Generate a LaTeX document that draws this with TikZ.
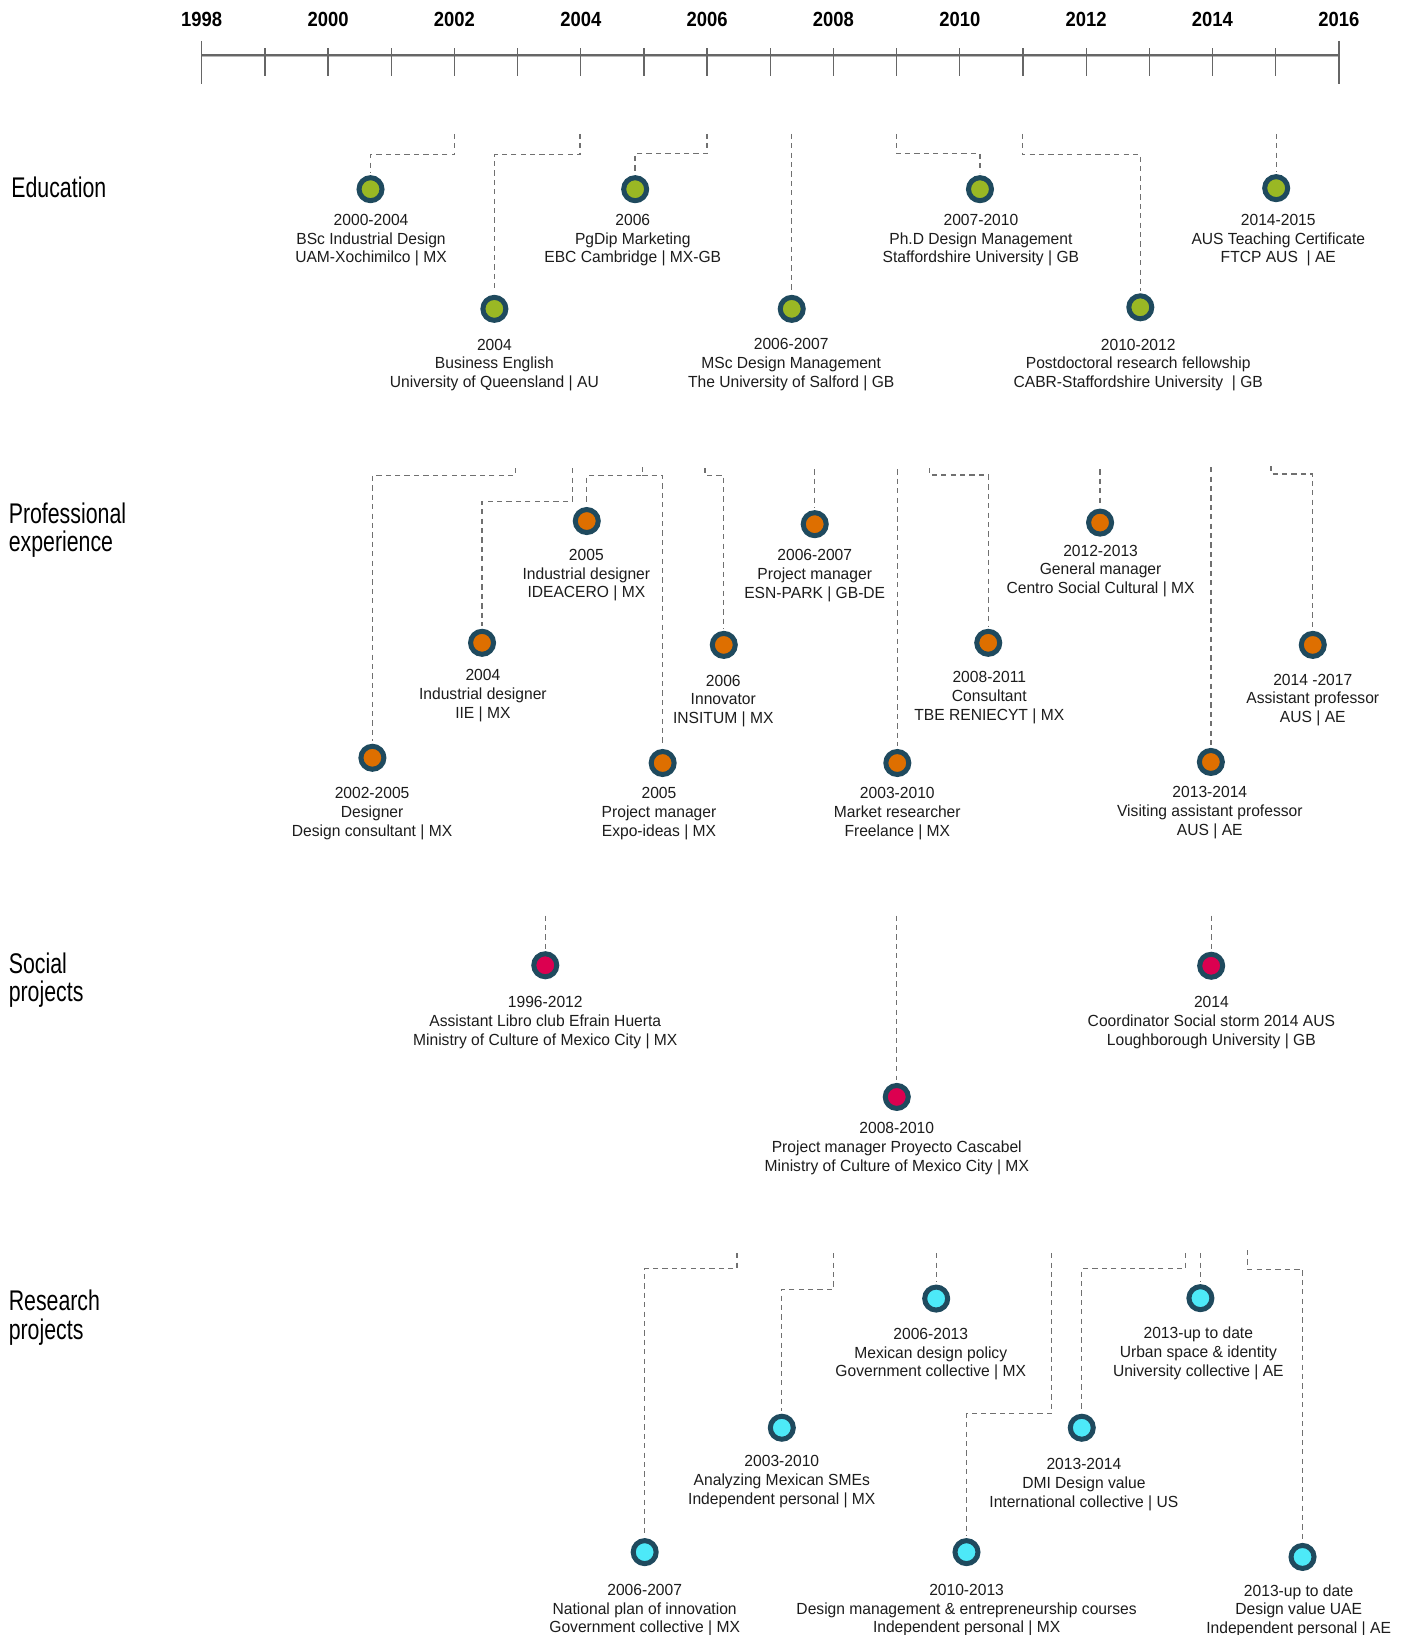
\documentclass[tikz,border=0pt]{standalone}
\usepackage{fontspec}
\setmainfont[FakeStretch=0.97]{Liberation Sans}
\newfontfamily\headfont[FakeStretch=0.75]{Liberation Sans}
\newfontfamily\yearfont[FakeStretch=0.9]{Liberation Sans Bold}
\usetikzlibrary{calc}
\definecolor{navy}{HTML}{1F4A5E}
\definecolor{edu}{HTML}{9AB824}
\definecolor{pro}{HTML}{DE6F00}
\definecolor{soc}{HTML}{DC0050}
\definecolor{res}{HTML}{4DE9F8}
\definecolor{dashgray}{HTML}{707070}
\definecolor{txt}{HTML}{1C1C1C}
\definecolor{axis}{HTML}{666666}
\definecolor{axislight}{HTML}{B8B8B8}
\newcommand\tl[3]{\begin{tabular}[t]{@{}c@{}}#1\\#2\\#3\end{tabular}}
\newcommand\hl[2]{\begin{tabular}[t]{@{}l@{}}#1\\#2\end{tabular}}
\begin{document}
\begin{tikzpicture}[x=0.5pt,y=-0.5pt,
  dot/.style={circle, draw=navy, line width=2.4pt, inner sep=0pt, minimum size=11pt, fill=#1},
  conn/.style={draw=dashgray, line width=0.65pt, dash pattern=on 2.5pt off 2pt, shorten >=1.2pt},
  lbl/.style={anchor=base, inner sep=0pt, text=txt, font=\fontsize{7.7}{9}\selectfont},
  hdg/.style={anchor=base west, inner sep=0pt, text=black, font=\headfont\fontsize{13.6}{13}\selectfont},
  yr/.style={anchor=base, inner sep=0pt, text=black, font=\yearfont\fontsize{9.8}{10}\selectfont},
  tick/.style={draw=axis, line width=0.6pt}]
\useasboundingbox (0,0) rectangle (1350,1564.3);

% ---------- time axis ----------
\draw[axislight, line width=1.6pt] (193,53) -- (1281,53);
\draw[axis, line width=0.9pt] (193,53) -- (1281,53);
\foreach \i in {1,...,17} \draw[tick] ({193+60.44*\i},46) -- ({193+60.44*\i},73);
\draw[tick] (193,39) -- (193,80);
\draw[tick] (1281,39) -- (1281,80);
\foreach \i [evaluate=\i as \yv using int(1998+\i)] in {0,2,...,18}
  \node[yr] (yr\i) at ({193+60.44*\i},25) {\yv};

% ---------- headings ----------
\node[hdg] (hEdu) at (10.5,189) {Education};
\node[hdg] (hPro) at (8,500.6) {\hl{Professional}{experience}};
\node[hdg] (hSoc) at (8,931) {\hl{Social}{projects}};
\node[hdg] (hRes) at (8,1254) {\hl{Research}{projects}};

% ---------- Education ----------
\node[dot=edu] (e1) at (354.5,181) {};
\node[dot=edu] (e2) at (473,295.5) {};
\node[dot=edu] (e3) at (607.7,181) {};
\node[dot=edu] (e4) at (757.5,295.5) {};
\node[dot=edu] (e5) at (937.6,181) {};
\node[dot=edu] (e6) at (1091,294) {};
\node[dot=edu] (e7) at (1221,180) {};
\coordinate (e1s) at (435,128);
\coordinate (e2s) at (555,128);
\coordinate (e3s) at (676.5,128);
\coordinate (e4s) at (757.5,128);
\coordinate (e5s) at (857.8,128);
\coordinate (e6s) at (978,128);
\coordinate (e7s) at (1221,128);
\draw[conn] (e1s) -- ++(0,20) -| (e1);
\draw[conn] (e2s) -- ++(0,20) -| (e2);
\draw[conn] (e3s) -- ++(0,19) -| (e3);
\draw[conn] (e4s) -- (e4);
\draw[conn] (e5s) -- ++(0,19) -| (e5);
\draw[conn] (e6s) -- ++(0,20) -| (e6);
\draw[conn] (e7s) -- (e7);
\node[lbl] (e1l) at (355,215.5) {\tl{2000-2004}{BSc Industrial Design}{UAM-Xochimilco | MX}};
\node[lbl] (e2l) at (473,335) {\tl{2004}{Business English}{University of Queensland | AU}};
\node[lbl] (e3l) at (605.4,215.5) {\tl{2006}{PgDip Marketing}{EBC Cambridge | MX-GB}};
\node[lbl] (e4l) at (757,334.5) {\tl{2006-2007}{MSc Design Management}{The University of Salford | GB}};
\node[lbl] (e5l) at (938.5,215.5) {\tl{2007-2010}{Ph.D Design Management}{Staffordshire University | GB}};
\node[lbl] (e6l) at (1089,335) {\tl{2010-2012}{Postdoctoral research fellowship}{CABR-Staffordshire University \ | GB}};
\node[lbl] (e7l) at (1223,215.5) {\tl{2014-2015}{AUS Teaching Certificate}{FTCP AUS \ | AE}};

% ---------- Professional experience ----------
\node[dot=pro] (p1) at (356.3,725) {};
\node[dot=pro] (p2) at (461.2,615) {};
\node[dot=pro] (p3) at (561.4,498.5) {};
\node[dot=pro] (p4) at (634,730) {};
\node[dot=pro] (p5) at (692.5,617) {};
\node[dot=pro] (p6) at (779.5,501.5) {};
\node[dot=pro] (p7) at (858.5,730) {};
\node[dot=pro] (p8) at (945.5,615) {};
\node[dot=pro] (p9) at (1052.5,500) {};
\node[dot=pro] (p10) at (1158.5,729) {};
\node[dot=pro] (p11) at (1256,617) {};
\coordinate (p1s) at (493,448);
\coordinate (p2s) at (548,448);
\coordinate (p34s) at (614.5,447);
\coordinate (p34j) at (614.5,455);
\coordinate (p5s) at (674.5,448);
\coordinate (p6s) at (779.5,449);
\coordinate (p7s) at (858.5,449);
\coordinate (p8s) at (889,448);
\coordinate (p9s) at (1052.5,449);
\coordinate (p10s) at (1158.5,447);
\coordinate (p11s) at (1216,446);
\draw[conn] (p1s) -- ++(0,7) -| (p1);
\draw[conn] (p2s) -- ++(0,31.5) -| (p2);
\draw[conn] (p34s) -- (p34j) -| (p3);
\draw[conn] (p34j) -| (p4);
\draw[conn] (p5s) -- ++(0,7) -| (p5);
\draw[conn] (p6s) -- (p6);
\draw[conn] (p7s) -- (p7);
\draw[conn] (p8s) -- ++(0,6.5) -| (p8);
\draw[conn] (p9s) -- (p9);
\draw[conn] (p10s) -- (p10);
\draw[conn] (p11s) -- ++(0,7.5) -| (p11);
\node[lbl] (p1l) at (356,764) {\tl{2002-2005}{Designer}{Design consultant | MX}};
\node[lbl] (p2l) at (462,651) {\tl{2004}{Industrial designer}{IIE | MX}};
\node[lbl] (p3l) at (561,536) {\tl{2005}{Industrial designer}{IDEACERO | MX}};
\node[lbl] (p4l) at (630.5,764) {\tl{2005}{Project manager}{Expo-ideas | MX}};
\node[lbl] (p5l) at (692,656.5) {\tl{2006}{Innovator}{INSITUM | MX}};
\node[lbl] (p6l) at (779.5,536.5) {\tl{2006-2007}{Project manager}{ESN-PARK | GB-DE}};
\node[lbl] (p7l) at (858.5,764) {\tl{2003-2010}{Market researcher}{Freelance | MX}};
\node[lbl] (p8l) at (946.5,653) {\tl{2008-2011}{Consultant}{TBE RENIECYT | MX}};
\node[lbl] (p9l) at (1053,532) {\tl{2012-2013}{General manager}{Centro Social Cultural | MX}};
\node[lbl] (p10l) at (1157.5,763) {\tl{2013-2014}{Visiting assistant professor}{AUS | AE}};
\node[lbl] (p11l) at (1256,655.5) {\tl{2014 -2017}{Assistant professor}{AUS | AE}};

% ---------- Social projects ----------
\node[dot=soc] (s1) at (521.7,923.5) {};
\node[dot=soc] (s2) at (858,1049.5) {};
\node[dot=soc] (s3) at (1158.8,924) {};
\coordinate (s1s) at (521.7,876);
\coordinate (s2s) at (858,876);
\coordinate (s3s) at (1158.8,876);
\draw[conn] (s1s) -- (s1);
\draw[conn] (s2s) -- (s2);
\draw[conn] (s3s) -- (s3);
\node[lbl] (s1l) at (521.7,964) {\tl{1996-2012}{Assistant Libro club Efrain Huerta}{Ministry of Culture of Mexico City | MX}};
\node[lbl] (s2l) at (858,1084.5) {\tl{2008-2010}{Project manager Proyecto Cascabel}{Ministry of Culture of Mexico City | MX}};
\node[lbl] (s3l) at (1159,964) {\tl{2014}{Coordinator Social storm 2014 AUS}{Loughborough University | GB}};

% ---------- Research projects ----------
\node[dot=res] (r1) at (616.8,1485) {};
\node[dot=res] (r2) at (748,1366) {};
\node[dot=res] (r3) at (895.7,1242.4) {};
\node[dot=res] (r4) at (924.7,1485) {};
\node[dot=res] (r5) at (1035,1366) {};
\node[dot=res] (r6) at (1148.5,1242) {};
\node[dot=res] (r7) at (1246.2,1489.6) {};
\coordinate (r1s) at (705,1199);
\coordinate (r2s) at (797.5,1199);
\coordinate (r3s) at (895.7,1199);
\coordinate (r4s) at (1006,1199);
\coordinate (r5s) at (1134.4,1199);
\coordinate (r6s) at (1148.5,1199);
\coordinate (r7s) at (1193.7,1196);
\draw[conn] (r1s) -- ++(0,14.7) -| (r1);
\draw[conn] (r2s) -- ++(0,34.5) -| (r2);
\draw[conn] (r3s) -- (r3);
\draw[conn] (r4s) -- ++(0,153.5) -| (r4);
\draw[conn] (r5s) -- ++(0,14.7) -| (r5);
\draw[conn] (r6s) -- (r6);
\draw[conn] (r7s) -- ++(0,18.4) -| (r7);
\node[lbl] (r1l) at (616.8,1526.3) {\tl{2006-2007}{National plan of innovation}{Government collective | MX}};
\node[lbl] (r2l) at (748,1403.5) {\tl{2003-2010}{Analyzing Mexican SMEs}{Independent personal | MX}};
\node[lbl] (r3l) at (890.5,1281.3) {\tl{2006-2013}{Mexican design policy}{Government collective | MX}};
\node[lbl] (r4l) at (924.8,1526.3) {\tl{2010-2013}{Design management \& entrepreneurship courses}{Independent personal | MX}};
\node[lbl] (r5l) at (1037,1406) {\tl{2013-2014}{DMI Design value}{International collective | US}};
\node[lbl] (r6l) at (1146.5,1280.7) {\tl{2013-up to date}{Urban space \& identity}{University collective | AE}};
\node[lbl] (r7l) at (1242.5,1527) {\tl{2013-up to date}{Design value UAE}{Independent personal | AE}};
\end{tikzpicture}
\end{document}
